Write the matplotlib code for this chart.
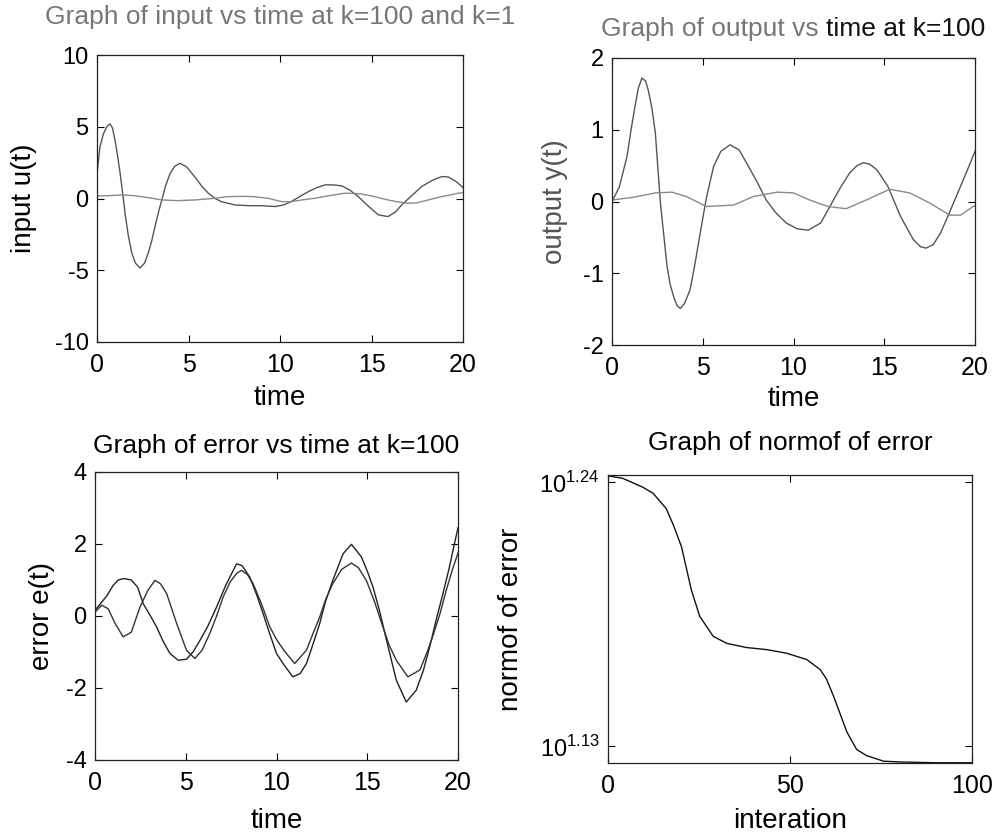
import numpy as np
import matplotlib
matplotlib.use("Agg")
import matplotlib.pyplot as plt
from matplotlib.ticker import FixedLocator, FixedFormatter, NullLocator

plt.rcParams['font.family'] = ['Liberation Sans', 'DejaVu Sans']
plt.rcParams['mathtext.fontset'] = 'custom'
plt.rcParams['mathtext.rm'] = 'Liberation Sans'
plt.rcParams['axes.unicode_minus'] = False

# ---- Panel 1: input u(t) ----
t_u100 = [0, 0.16, 0.35, 0.53, 0.71, 0.85, 0.98, 1.12, 1.26, 1.4, 1.53, 1.7, 1.9, 2.1, 2.35, 2.6,
          2.8, 3.0, 3.17, 3.35, 3.54, 3.75, 4.0, 4.25, 4.54, 4.9, 5.35, 5.7, 6.08, 6.45, 6.8, 7.54,
          8.3, 9.0, 9.73, 10.2, 10.6, 11.1, 11.55, 12.0, 12.46, 12.9, 13.37, 13.8, 14.28, 14.8,
          15.37, 15.9, 16.3, 16.65, 17.2, 17.74, 18.3, 18.84, 19.2, 19.6, 19.93, 20]
u100 = [1.7, 3.6, 4.5, 5.0, 5.2, 4.9, 4.1, 3.0, 1.8, 0.4, -1.0, -2.5, -3.8, -4.5, -4.85, -4.5,
        -3.8, -2.9, -1.95, -1.0, -0.1, 0.9, 1.76, 2.25, 2.45, 2.2, 1.5, 0.9, 0.37, 0.0, -0.22, -0.45,
        -0.5, -0.5, -0.56, -0.45, -0.22, 0.15, 0.48, 0.75, 0.95, 0.95, 0.88, 0.6, 0.13, -0.5,
        -1.14, -1.26, -0.95, -0.45, 0.2, 0.83, 1.25, 1.53, 1.5, 1.2, 0.85, 0.75]
t_u1 = [0, 0.7, 1.35, 2.0, 2.6, 3.1, 3.53, 4.4, 5.35, 6.3, 7.17, 8.0, 8.6, 9.4, 10.1, 10.6, 11.2,
        11.9, 12.7, 13.55, 14.4, 15.1, 15.9, 16.5, 17.0, 17.5, 18.1, 18.9, 19.75, 20]
u1 = [0.18, 0.2, 0.25, 0.2, 0.1, 0.0, -0.1, -0.15, -0.1, 0.0, 0.13, 0.15, 0.13, 0.0, -0.22, -0.22,
      -0.1, 0.02, 0.2, 0.37, 0.33, 0.15, -0.1, -0.25, -0.33, -0.3, -0.1, 0.15, 0.37, 0.4]

# ---- Panel 2: output y(t) ----
t_y100 = [0, 0.4, 0.83, 1.05, 1.25, 1.45, 1.65, 1.85, 2.0, 2.2, 2.39, 2.66, 3.03, 3.2, 3.4, 3.58,
          3.76, 4.0, 4.3, 4.55, 4.86, 5.2, 5.6, 6.0, 6.5, 7.0, 7.43, 8.0, 8.5, 9.0, 9.6, 10.2,
          10.8, 11.5, 12.2, 12.6, 13.1, 13.5, 13.85, 14.2, 14.6, 15.2, 15.9, 16.6, 17.0, 17.3,
          17.7, 18.1, 18.6, 19.2, 19.6, 20]
y100 = [0.0, 0.2, 0.63, 1.0, 1.3, 1.58, 1.72, 1.68, 1.55, 1.3, 0.95, 0.0, -0.9, -1.15, -1.33,
        -1.45, -1.49, -1.42, -1.23, -0.9, -0.44, 0.05, 0.49, 0.7, 0.79, 0.72, 0.53, 0.27, 0.02,
        -0.15, -0.3, -0.38, -0.4, -0.3, 0.02, 0.2, 0.4, 0.5, 0.54, 0.52, 0.44, 0.21, -0.21, -0.53,
        -0.63, -0.65, -0.6, -0.44, -0.15, 0.21, 0.45, 0.7]
t_y1 = [0, 1.2, 2.4, 3.3, 4.1, 5.2, 6.7, 7.8, 9.1, 10.0, 10.9, 11.9, 12.9, 14.0, 15.3, 16.4,
        17.5, 18.6, 19.2, 19.9, 20]
y1 = [0.02, 0.06, 0.12, 0.13, 0.07, -0.07, -0.05, 0.07, 0.13, 0.12, 0.02, -0.07, -0.1, 0.02,
      0.17, 0.12, -0.02, -0.19, -0.19, -0.07, -0.06]

# ---- Panel 3: error e(t) ----
t_ea = [0, 0.64, 1.0, 1.28, 1.6, 2.0, 2.35, 2.66, 3.0, 3.39, 3.75, 4.13, 4.58, 5.04, 5.4, 5.78,
        6.2, 6.7, 7.2, 7.8, 8.1, 8.53, 8.9, 9.26, 9.63, 10.0, 10.4, 10.9, 11.3, 11.65, 12.0,
        12.38, 12.7, 13.1, 13.67, 14.13, 14.68, 15.0, 15.32, 15.7, 16.06, 16.6, 17.15, 17.7,
        18.1, 18.44, 18.8, 19.17, 19.5, 19.8, 20]
ea = [0.16, 0.55, 0.85, 1.0, 1.04, 1.0, 0.8, 0.34, 0.05, -0.3, -0.7, -1.04, -1.23, -1.2, -1.0,
      -0.68, -0.3, 0.25, 0.85, 1.45, 1.4, 1.08, 0.6, 0.07, -0.5, -1.04, -1.35, -1.69, -1.6,
      -1.32, -0.8, -0.21, 0.4, 0.99, 1.73, 1.99, 1.64, 1.25, 0.8, 0.1, -0.67, -1.78, -2.39,
      -2.06, -1.5, -0.86, -0.1, 0.62, 1.3, 2.0, 2.45]
t_eb = [0, 0.37, 0.73, 1.1, 1.55, 2.0, 2.48, 2.9, 3.3, 3.6, 3.95, 4.5, 5.04, 5.5, 5.9, 6.32, 6.7,
        7.06, 7.45, 7.8, 8.07, 8.4, 8.71, 9.2, 9.63, 10.0, 10.4, 11.0, 11.65, 12.0, 12.38, 12.7,
        13.1, 13.6, 14.13, 14.5, 14.95, 15.4, 15.86, 16.2, 16.6, 17.24, 17.9, 18.3, 18.6, 19.0,
        19.35, 19.7, 20]
eb = [0.11, 0.3, 0.2, -0.2, -0.58, -0.45, 0.25, 0.7, 0.99, 0.9, 0.62, -0.21, -0.95, -1.18, -0.95,
      -0.49, 0.0, 0.53, 0.95, 1.18, 1.27, 1.15, 0.9, 0.3, -0.3, -0.65, -0.95, -1.32, -0.95, -0.5,
      -0.03, 0.45, 0.9, 1.3, 1.47, 1.35, 0.99, 0.4, -0.3, -0.8, -1.23, -1.69, -1.5, -1.0, -0.58,
      0.05, 0.71, 1.3, 1.75]

# ---- Panel 4: norm of error ----
iters = [0, 4, 9.6, 12.4, 16, 18, 20.2, 22.9, 25.2, 28.9, 32.6, 38, 43.6, 49, 54.6, 58.3, 60,
         62, 65.6, 68.3, 71.1, 75.7, 80.3, 90, 100]
norm_err = [17.48, 17.44, 17.29, 17.19, 16.94, 16.67, 16.33, 15.67, 15.28, 14.99, 14.89, 14.83,
            14.80, 14.75, 14.66, 14.52, 14.39, 14.15, 13.68, 13.45, 13.37, 13.30, 13.29, 13.28,
            13.28]
norm_ticks = [10 ** 1.13, 10 ** 1.24]
norm_ticklabels = [r'$10^{1.13}$', r'$10^{1.24}$']

W, H = 999, 839
fig = plt.figure(figsize=(W / 100, H / 100), dpi=100)


def box(l, t, r, b):
    return [l / W, (H - b) / H, (r - l) / W, (b - t) / H]


def style(ax):
    ax.tick_params(direction='in', top=True, right=True, length=5, width=0.8,
                   labelsize=17, pad=6)
    ax.tick_params(axis='x', labelsize=18, pad=8)
    for s in ax.spines.values():
        s.set_linewidth(0.9)
        s.set_color('#222222')


TFS = 19
LFS = 20

ax1 = fig.add_axes(box(97, 55, 463, 342))
ax1.plot(t_u100, u100, color='#555555', lw=1.0)
ax1.plot(t_u1, u1, color='#8a8a8a', lw=1.0)
ax1.set_xlim(0, 20)
ax1.set_ylim(-10, 10)
ax1.set_xticks([0, 5, 10, 15, 20])
ax1.set_yticks([-10, -5, 0, 5, 10])
style(ax1)
ax1.set_title('Graph of input vs time at k=100 and k=1', fontsize=TFS, color='#777777', pad=22)
ax1.set_xlabel('time', fontsize=LFS, labelpad=6)
ax1.set_ylabel('input u(t)', fontsize=LFS, labelpad=13)

ax2 = fig.add_axes(box(612, 58, 975, 345))
ax2.plot(t_y100, y100, color='#555555', lw=1.0)
ax2.plot(t_y1, y1, color='#8a8a8a', lw=1.0)
ax2.set_xlim(0, 20)
ax2.set_ylim(-2, 2)
ax2.set_xticks([0, 5, 10, 15, 20])
ax2.set_yticks([-2, -1, 0, 1, 2])
style(ax2)
ax2.set_xlabel('time', fontsize=LFS, labelpad=4)
ax2.set_ylabel('output y(t)', fontsize=LFS, labelpad=11, color='#555555')

ax3 = fig.add_axes(box(95, 472, 458, 760))
ax3.plot(t_ea, ea, color='#222222', lw=1.0)
ax3.plot(t_eb, eb, color='#333333', lw=1.0)
ax3.set_xlim(0, 20)
ax3.set_ylim(-4, 4)
ax3.set_xticks([0, 5, 10, 15, 20])
ax3.set_yticks([-4, -2, 0, 2, 4])
style(ax3)
ax3.set_title('Graph of error vs time at k=100', fontsize=TFS, pad=14)
ax3.set_xlabel('time', fontsize=LFS, labelpad=9)
ax3.set_ylabel('error e(t)', fontsize=LFS, labelpad=8)

ax4 = fig.add_axes(box(608, 475, 972, 763))
ax4.plot(iters, norm_err, color='#111111', lw=1.0)
ax4.set_yscale('log')
ax4.set_xlim(0, 100)
ax4.set_ylim(10 ** 1.1231, 10 ** 1.2429)
ax4.set_xticks([0, 50, 100])
ax4.yaxis.set_major_locator(FixedLocator(norm_ticks))
ax4.yaxis.set_major_formatter(FixedFormatter(norm_ticklabels))
ax4.yaxis.set_minor_locator(NullLocator())
style(ax4)
ax4.set_title('Graph of normof of error', fontsize=TFS, pad=18)
ax4.set_xlabel('interation', fontsize=LFS, labelpad=7)
ax4.set_ylabel('normof of error', fontsize=LFS, labelpad=11)

# Panel 2 title: first part grey, second part black (as in the scan)
fig.canvas.draw()
r = fig.canvas.get_renderer()
part1 = 'Graph of output vs '
part2 = 'time at k=100'
tmp = fig.text(0, 0, part1 + part2, fontsize=TFS)
wfull = tmp.get_window_extent(r).width
tmp.remove()
xc = (612 + 975) / 2.0
x0 = xc - wfull / 2.0
ybase = H - 58 + 22
t1 = fig.text(x0 / W, ybase / H, part1, fontsize=TFS, color='#777777', ha='left', va='baseline')
w1 = t1.get_window_extent(r).width
fig.text((x0 + w1) / W, ybase / H, part2, fontsize=TFS, color='#111111', ha='left', va='baseline')

fig.savefig('out.png', dpi=100)
